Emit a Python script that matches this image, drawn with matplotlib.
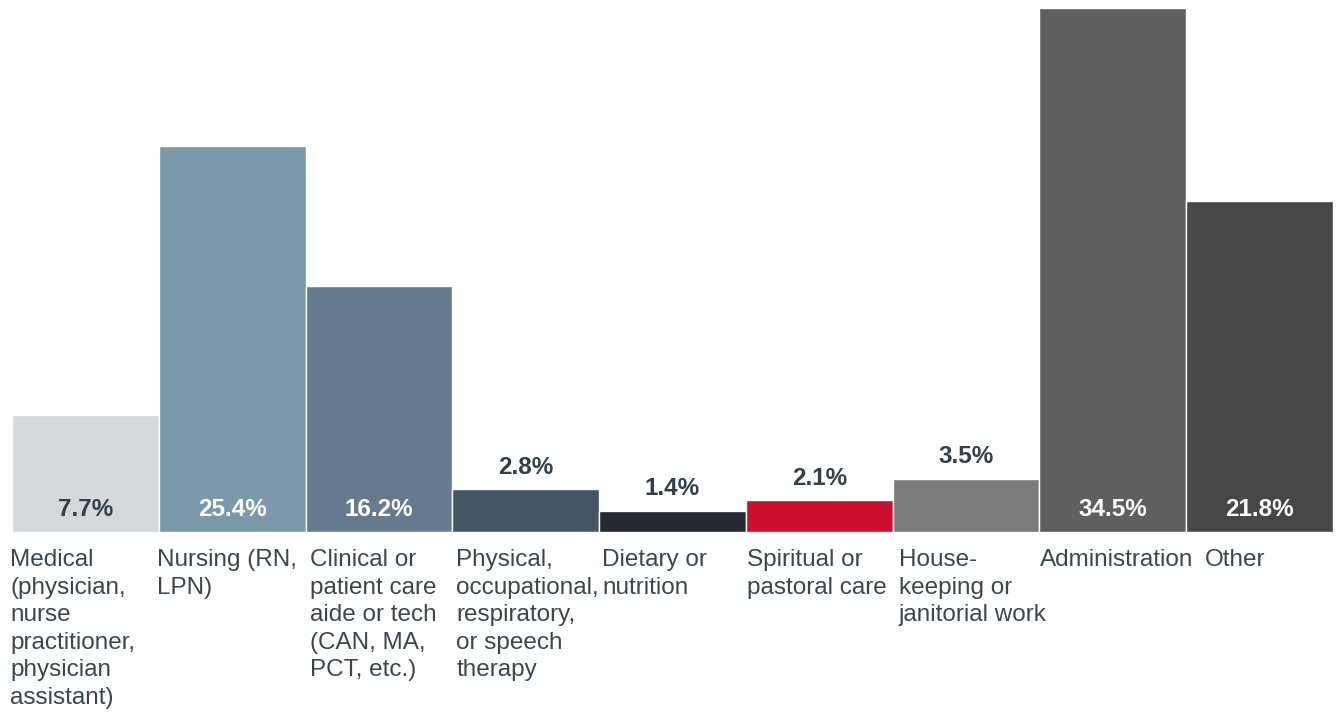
import matplotlib
matplotlib.use("Agg")
import matplotlib.pyplot as plt

categories = [
    "Medical\n(physician,\nnurse\npractitioner,\nphysician\nassistant)",
    "Nursing (RN,\nLPN)",
    "Clinical or\npatient care\naide or tech\n(CAN, MA,\nPCT, etc.)",
    "Physical,\noccupational,\nrespiratory,\nor speech\ntherapy",
    "Dietary or\nnutrition",
    "Spiritual or\npastoral care",
    "House-\nkeeping or\njanitorial work",
    "Administration",
    "Other",
]
values = [7.7, 25.4, 16.2, 2.8, 1.4, 2.1, 3.5, 34.5, 21.8]
labels = ["7.7%", "25.4%", "16.2%", "2.8%", "1.4%", "2.1%", "3.5%", "34.5%", "21.8%"]
colors = ["#D5D9DB", "#7B98AC", "#667B8F", "#465563", "#252A31",
          "#CC0F2E", "#7B7B7B", "#5F5F5F", "#474747"]
inside = [True, True, True, False, False, False, False, True, True]
inside_color = ["#333F4B", "white", "white", None, None, None, None, "white", "white"]
# horizontal nudges (pixels) of the category labels relative to bar left edge
label_dx = [-2, -2, 4, 4, 3, 1, 6, 1, 19]

plt.rcParams['font.family'] = ['Liberation Sans', 'DejaVu Sans']
dark = "#333F4B"
text_col = "#3C4650"

W, H = 1336, 717
fig = plt.figure(figsize=(W / 100, H / 100), dpi=100)
left, right = 12, 1333
base, top = 532, 8
ax = fig.add_axes([left / W, (H - base) / H, (right - left) / W, (base - top) / H])
x = list(range(len(values)))
ax.bar(x, values, width=1.0, color=colors, edgecolor="white", linewidth=1.0)
ax.set_xlim(-0.5, len(values) - 0.5)
ax.set_ylim(0, max(values))
ax.axis("off")

px = 0.72  # points per pixel
for i, (v, lab) in enumerate(zip(values, labels)):
    if inside[i]:
        ax.annotate(lab, xy=(i, 0), xytext=(0, 23 * px), textcoords="offset points",
                    ha="center", va="center", fontsize=17.5, fontweight="bold",
                    color=inside_color[i])
    else:
        ax.annotate(lab, xy=(i, v), xytext=(0, 22 * px), textcoords="offset points",
                    ha="center", va="center", fontsize=17.5, fontweight="bold",
                    color=dark)
    ax.annotate(categories[i], xy=(i - 0.5, 0), xytext=(label_dx[i] * px, -17 * px),
                textcoords="offset points", ha="left", va="top", fontsize=17.5,
                color=text_col, linespacing=1.33, annotation_clip=False)

fig.savefig("out.png", dpi=100, facecolor="white")
